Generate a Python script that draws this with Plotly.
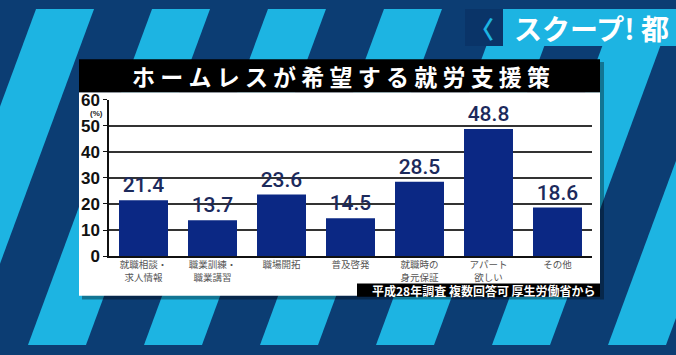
import plotly.graph_objects as go

W, H = 676, 355

categories = ["就職相談・<br>求人情報", "職業訓練・<br>職業講習", "職場開拓", "普及啓発",
              "就職時の<br>身元保証", "アパート<br>欲しい", "その他"]
values = [21.4, 13.7, 23.6, 14.5, 28.5, 48.8, 18.6]
value_labels = ["21.4", "13.7", "23.6", "14.5", "28.5", "48.8", "18.6"]
y_ticks = [0, 10, 20, 30, 40, 50, 60]

title_text = "ホームレスが希望する就労支援策"
footer_text = "平成28年調査 複数回答可 厚生労働省から"
banner_text = "スクープ! 都"

NAVY = "#0c3d73"
CYAN = "#1db4e2"
BAR = "#0b2884"

def fx(px):
    return px / W

def fy(py):
    return 1 - py / H

shapes = []
# diagonal background stripes
for k in range(-3, 8):
    b = 28 + 116 * k
    t = b + 124
    pts = [(b, H), (b + 58, H), (t + 58, 0), (t, 0)]
    path = "M " + " L ".join(f"{fx(x):.4f},{fy(y):.4f}" for x, y in pts) + " Z"
    shapes.append(dict(type="path", xref="paper", yref="paper", path=path,
                       fillcolor=CYAN, line=dict(width=0), layer="below"))

# header banner
shapes.append(dict(type="rect", xref="paper", yref="paper", x0=fx(465), x1=fx(503), y0=fy(39), y1=fy(0),
                   fillcolor="#0a3468", line=dict(width=0), layer="below"))
shapes.append(dict(type="rect", xref="paper", yref="paper", x0=fx(503), x1=fx(676), y0=fy(39), y1=fy(0),
                   fillcolor=CYAN, line=dict(width=0), layer="below"))
# panel shadow
shapes.append(dict(type="rect", xref="paper", yref="paper", x0=fx(82), x1=fx(604), y0=fy(307), y1=fy(56),
                   fillcolor="rgba(0,0,0,0.35)", line=dict(width=0), layer="below"))
# white panel
shapes.append(dict(type="rect", xref="paper", yref="paper", x0=fx(79), x1=fx(600), y0=fy(303), y1=fy(88),
                   fillcolor="white", line=dict(width=0), layer="below"))
# title box
shapes.append(dict(type="rect", xref="paper", yref="paper", x0=fx(79), x1=fx(600), y0=fy(88), y1=fy(53),
                   fillcolor="black", line=dict(width=0), layer="below"))
# footer box
shapes.append(dict(type="rect", xref="paper", yref="paper", x0=fx(357), x1=fx(600), y0=fy(304), y1=fy(290),
                   fillcolor="black", line=dict(width=0), layer="above"))

fig = go.Figure()
fig.add_trace(go.Bar(
    x=categories, y=values, marker=dict(color=BAR, line=dict(width=0)),
    text=value_labels, textposition="outside", cliponaxis=False, constraintext="none",
    textfont=dict(family="Roboto", size=21, color="#1c2a5c", weight=500),
))

annotations = [
    dict(text=" ".join(title_text), x=fx(341), y=fy(71), xref="paper", yref="paper",
         showarrow=False, font=dict(family="Noto Sans CJK JP", size=23, color="white", weight="bold"),
         xanchor="center", yanchor="middle"),
    dict(text=footer_text, x=fx(598), y=fy(297.5), xref="paper", yref="paper",
         showarrow=False, font=dict(family="Noto Sans CJK JP", size=12, color="white", weight="bold"),
         xanchor="right", yanchor="middle"),
    dict(text="(%)", x=fx(96), y=fy(110), xref="paper", yref="paper",
         showarrow=False, font=dict(family="Liberation Sans", size=8, color="#222", weight="bold"),
         xanchor="center", yanchor="middle"),
    dict(text="〈", x=fx(482), y=fy(20), xref="paper", yref="paper",
         showarrow=False, font=dict(family="Noto Sans CJK JP", size=24, color=CYAN, weight="bold"),
         xanchor="center", yanchor="middle"),
    dict(text=banner_text, x=fx(512), y=fy(20), xref="paper", yref="paper",
         showarrow=False, font=dict(family="Noto Sans CJK JP", size=28, color="white", weight="bold"),
         xanchor="left", yanchor="middle"),
]

fig.update_layout(
    width=W, height=H, margin=dict(l=0, r=0, t=0, b=0),
    paper_bgcolor=NAVY, plot_bgcolor="rgba(0,0,0,0)",
    shapes=shapes, annotations=annotations, showlegend=False, bargap=0.29,
    xaxis=dict(domain=[fx(109), fx(592)], showgrid=False, showline=True, linecolor="#111", linewidth=1.5,
               ticks="", tickfont=dict(family="Noto Sans CJK JP", size=9.5, color="#555"),
               ticklabelstandoff=-1, anchor="y"),
    yaxis=dict(domain=[fy(261), fy(96)], range=[0, 60], tickvals=y_ticks,
               showgrid=True, gridcolor="#333", gridwidth=1.5, showline=True, linecolor="#111", linewidth=1.5,
               ticks="outside", ticklen=4, tickcolor="#111", zeroline=False,
               tickfont=dict(family="Liberation Sans", size=17, color="#111", weight="bold"), anchor="x"),
)

fig.write_html("out.html", config={"displayModeBar": False},
               post_script="document.body.style.margin='0px';document.body.style.overflow='hidden';")
